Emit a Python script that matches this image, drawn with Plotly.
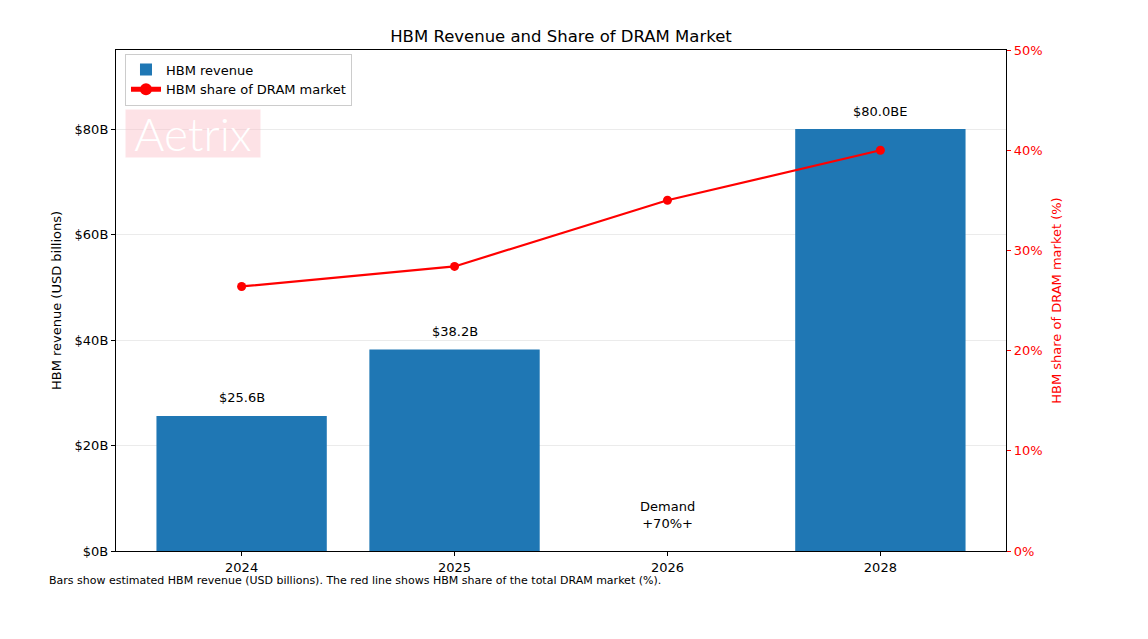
import plotly.graph_objects as go

years = ["2024", "2025", "2026", "2028"]
revenue = [25.6, 38.2, None, 80.0]
revenue_labels = ["$25.6B", "$38.2B", "", "$80.0BE"]
share = [26.4, 28.4, 35.0, 40.0]
left_ticks = [0, 20, 40, 60, 80]
left_ticktext = ["$0B", "$20B", "$40B", "$60B", "$80B"]
right_ticks = [0, 10, 20, 30, 40, 50]
right_ticktext = ["0%", "10%", "20%", "30%", "40%", "50%"]

FONT = "DejaVu Sans"
xpos = list(range(len(years)))

fig = go.Figure()
fig.add_trace(go.Bar(x=xpos, y=revenue, name="HBM revenue", marker=dict(color="#1f77b4", line=dict(width=0)),
                     width=0.8, yaxis="y"))
fig.add_trace(go.Scatter(x=xpos, y=share, name="HBM share of DRAM market", mode="lines+markers",
                         line=dict(color="#ff0000", width=2.2), marker=dict(color="#ff0000", size=9),
                         yaxis="y2"))

for i, v, t in zip(xpos, revenue, revenue_labels):
    if v is not None and t:
        fig.add_annotation(x=i, y=v, xref="x", yref="y", text=t, showarrow=False, yshift=18,
                           font=dict(family=FONT, size=13, color="black"))

fig.add_annotation(x=xpos[2], y=6.8, xref="x", yref="y", text="Demand<br>+70%+", showarrow=False,
                   font=dict(family=FONT, size=13, color="black"))

fig.add_annotation(xref="paper", yref="paper", x=0.0101, y=0.834, xanchor="left", yanchor="middle",
                   text="Aetrix", showarrow=False, bgcolor="rgba(250,190,200,0.45)",
                   width=134, height=47,
                   font=dict(family="Lato", size=46, color="white", weight=300),
                   borderpad=0)

fig.add_annotation(xref="paper", yref="paper", x=-0.0775, y=-0.059, xanchor="left", yanchor="middle",
                   text="Bars show estimated HBM revenue (USD billions). The red line shows HBM share of the total DRAM market (%).",
                   showarrow=False, font=dict(family=FONT, size=11, color="black"))

fig.update_layout(
    width=1148, height=639,
    margin=dict(l=116, r=142, t=50, b=88),
    plot_bgcolor="white", paper_bgcolor="white",
    title=dict(text="HBM Revenue and Share of DRAM Market", x=0.5, xref="paper", y=1 - 36/639, yanchor="middle",
               font=dict(family=FONT, size=16.5, color="black")),
    font=dict(family=FONT, size=13, color="black"),
    xaxis=dict(range=[-0.59, 3.59], tickvals=xpos, ticktext=years, showline=True, linecolor="black", linewidth=1.2,
               mirror=True, ticks="outside", ticklen=4, tickcolor="black", showgrid=False, zeroline=False,
               tickfont=dict(family=FONT, size=13)),
    yaxis=dict(range=[0, 95], tickvals=left_ticks, ticktext=left_ticktext, showline=True, linecolor="black",
               linewidth=1.2, ticks="outside", ticklen=4, tickcolor="black", showgrid=True,
               gridcolor="rgba(0,0,0,0.08)", gridwidth=1, zeroline=False,
               title=dict(text="HBM revenue (USD billions)", font=dict(family=FONT, size=13), standoff=10),
               tickfont=dict(family=FONT, size=13)),
    yaxis2=dict(range=[0, 50], overlaying="y", side="right", tickvals=right_ticks, ticktext=right_ticktext,
                showline=True, linecolor="black", linewidth=1.2, ticks="outside", ticklen=4, tickcolor="#ff0000",
                showgrid=False, zeroline=False,
                title=dict(text="HBM share of DRAM market (%)", font=dict(family=FONT, size=13, color="#ff0000"),
                           standoff=10),
                tickfont=dict(family=FONT, size=13, color="#ff0000")),
    legend=dict(x=0.0101, y=0.993, xanchor="left", yanchor="top", bgcolor="rgba(255,255,255,0.8)",
                bordercolor="#cccccc", borderwidth=1, font=dict(family=FONT, size=13),
                tracegroupgap=0, itemsizing="constant"),
    showlegend=True,
)

fig.write_html("out.html")
